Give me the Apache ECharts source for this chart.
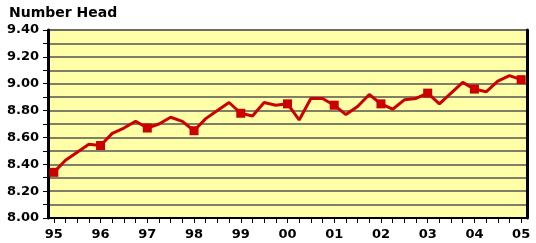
<!DOCTYPE html>
<html>
<head>
<meta charset="utf-8">
<script src="https://cdn.jsdelivr.net/npm/echarts@6/dist/echarts.min.js"></script>
<style>
html,body{margin:0;padding:0;background:#fff;}
#c{width:536px;height:243px;}
</style>
</head>
<body>
<div id="c"></div>
<script>
// Year tick labels (axis labels shown at each year start)
var yearLabels = ['95','96','97','98','99','00','01','02','03','04','05'];
// Quarterly values, 1995 Q1 .. 2005 Q1 (41 points)
var headValues = [
  8.34, 8.43, 8.49, 8.55,
  8.54, 8.63, 8.67, 8.72,
  8.67, 8.70, 8.75, 8.72,
  8.65, 8.74, 8.80, 8.86,
  8.78, 8.76, 8.86, 8.84,
  8.85, 8.73, 8.89, 8.89,
  8.84, 8.77, 8.83, 8.92,
  8.85, 8.81, 8.88, 8.89,
  8.93, 8.85, 8.93, 9.01,
  8.96, 8.94, 9.02, 9.06,
  9.03
];
var yTickLabels = ['8.00','8.20','8.40','8.60','8.80','9.00','9.20','9.40'];

var categories = [];
for (var i = 0; i < headValues.length; i++) {
  categories.push(yearLabels[Math.floor(i / 4)] + ' Q' + (i % 4 + 1));
}

var chart = echarts.init(document.getElementById('c'), null, {renderer: 'canvas'});
var font = 'DejaVu Sans';
chart.setOption({
  animation: false,
  title: {
    text: 'Number Head',
    left: 4, top: 1,
    textStyle: {fontFamily: font, fontWeight: 'bold', fontSize: 14, color: '#000'}
  },
  grid: {
    left: 48, right: 9, top: 30, bottom: 25,
    show: true,
    backgroundColor: '#ffffa8',
    borderColor: '#666', borderWidth: 1
  },
  xAxis: {
    type: 'category',
    data: categories,
    boundaryGap: true,
    axisLine: {show: true, lineStyle: {color: '#000', width: 2}},
    axisTick: {show: true, alignWithLabel: true, interval: 0, length: 5, lineStyle: {color: '#000', width: 1}},
    axisLabel: {
      interval: 3, margin: 10,
      fontFamily: font, fontWeight: 'bold', fontSize: 13, color: '#000',
      formatter: function (v) { return v.slice(0, 2); }
    },
    splitLine: {show: false}
  },
  yAxis: [{
    type: 'value',
    min: 8.0, max: 9.4, interval: 0.1,
    axisLine: {show: true, lineStyle: {color: '#000', width: 3}},
    axisTick: {show: true, length: 5, lineStyle: {color: '#000', width: 1}},
    axisLabel: {
      margin: 9,
      fontFamily: font, fontWeight: 'bold', fontSize: 13, color: '#000',
      formatter: function (v) {
        var k = Math.round((v - 8) * 10);
        return k % 2 === 0 ? yTickLabels[k / 2] : '';
      }
    },
    splitLine: {show: true, lineStyle: {color: '#555', width: 1.5}}
  }, {
    type: 'value',
    position: 'right',
    min: 8.0, max: 9.4,
    axisLine: {show: true, lineStyle: {color: '#000', width: 3}},
    axisTick: {show: false},
    axisLabel: {show: false},
    splitLine: {show: false}
  }],
  series: [{
    type: 'line',
    data: headValues,
    yAxisIndex: 0,
    showSymbol: true,
    symbol: function (v, p) { return p.dataIndex % 4 === 0 ? 'rect' : 'none'; },
    symbolSize: 9,
    itemStyle: {color: '#cc0000'},
    lineStyle: {color: '#cc0000', width: 3},
    z: 5
  }]
});
</script>
</body>
</html>
